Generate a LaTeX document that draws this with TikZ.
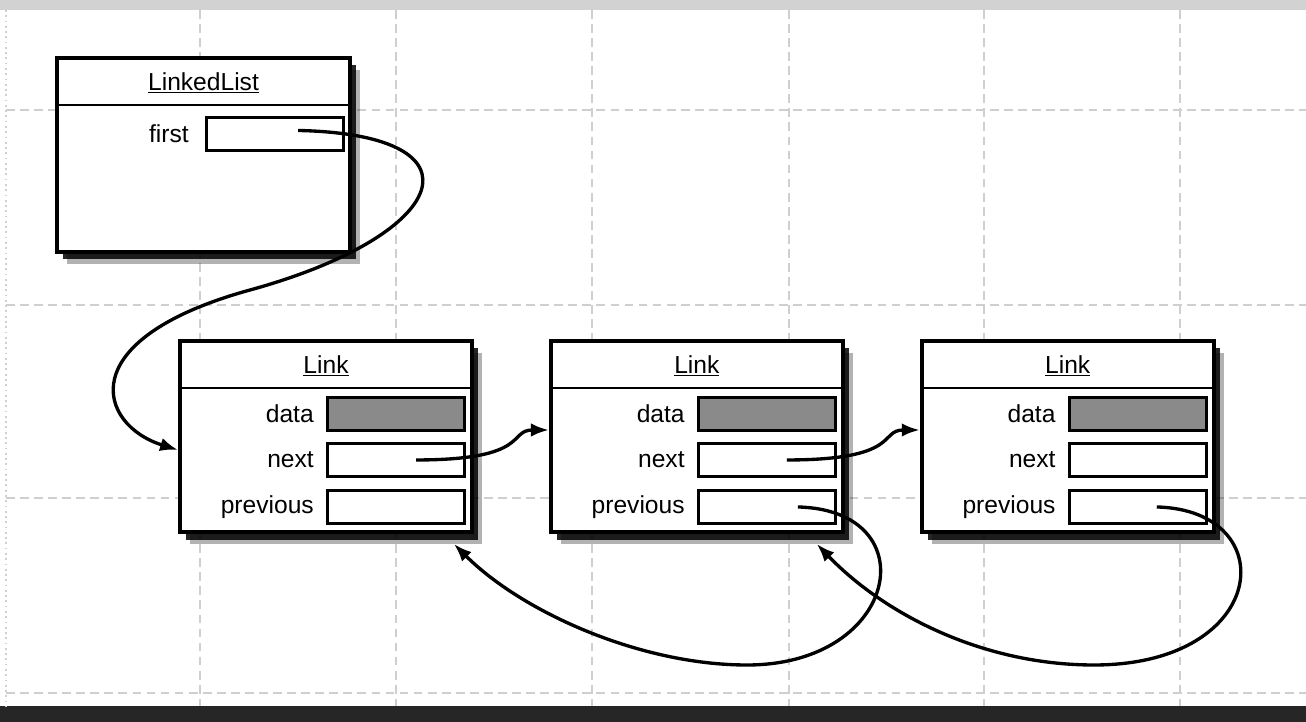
\documentclass[tikz,border=0pt]{standalone}
\usepackage{fontspec}
\setmainfont{Liberation Sans}
\usetikzlibrary{arrows.meta,positioning,shadows}
\definecolor{datagray}{HTML}{8A8A8A}
\definecolor{gridgray}{HTML}{CFCFCF}
\begin{document}
\begin{tikzpicture}[node distance=1.5cm,
  every node/.style={font=\fontsize{14}{16}\selectfont},
  objbox/.style={draw,line width=2.2pt,fill=white,inner sep=0pt,minimum width=5.84cm,minimum height=3.82cm,
    drop shadow={shadow xshift=.2cm,shadow yshift=-.24cm,opacity=.3,fill=black},
    drop shadow={shadow xshift=.12cm,shadow yshift=-.15cm,opacity=.85,fill=black}},
  field/.style={draw,line width=1.6pt,fill=white,inner sep=0pt,minimum width=2.74cm,minimum height=.66cm},
  lbl/.style={inner sep=0pt},
  ptr/.style={-{Latex[length=.36cm,width=.27cm]},line width=1.9pt},
  gridline/.style={gridgray,line width=.7pt,dash pattern=on 5pt off 3pt}]
\useasboundingbox (0,0) rectangle (26.12,-14.44);
% scanned paper
\fill[gray!35] (0,0) rectangle (26.12,-.2);
\fill[black!85] (0,-14.12) rectangle (26.12,-14.44);
\draw[gridgray,line width=1pt,dash pattern=on 1pt off 2pt] (.12,-.2) -- (.12,-14.12);
\foreach \x in {4.0,7.92,11.84,15.78,19.68,23.6} \draw[gridline] (\x,-.2) -- (\x,-14.12);
\foreach \y in {-2.2,-6.1,-9.96,-13.86} \draw[gridline] (.12,\y) -- (26.12,\y);

% list object
\node[objbox,minimum width=5.86cm,minimum height=3.88cm] (ll) at (4.07,-3.10) {};
\draw[line width=1.6pt] ([yshift=-.98cm]ll.north west) -- ([yshift=-.98cm]ll.north east);
\node (llt) at ([yshift=-.54cm]ll.north) {\underline{LinkedList}};
\node[field,below left=1.2cm and .14cm of ll.north east] (f0) {};
\node[lbl,left=.32cm of f0] (f0l) {first};

% links
\node[objbox] (l1) at (6.52,-8.73) {};
\node[objbox,right=of l1] (l2) {};
\node[objbox,right=of l2] (l3) {};
\foreach \n in {1,2,3}{
  \draw[line width=1.6pt] ([yshift=-.98cm]l\n.north west) -- ([yshift=-.98cm]l\n.north east);
  \node (t\n) at ([yshift=-.54cm]l\n.north) {\underline{Link}};
  \node[field,fill=datagray,below left=1.14cm and .16cm of l\n.north east] (d\n) {};
  \node[field,below left=2.06cm and .16cm of l\n.north east] (n\n) {};
  \node[field,below left=3.0cm and .16cm of l\n.north east] (p\n) {};
  \node[lbl,left=.24cm of d\n] (dl\n) {data};
  \node[lbl,left=.24cm of n\n] (nl\n) {next};
  \node[lbl,left=.24cm of p\n] (pl\n) {previous};
}

% pointers
\coordinate (w0) at (5.00,-5.80);
\coordinate (w2) at (14.94,-13.30);
\coordinate (w3) at (21.88,-13.30);
\draw[ptr] ([xshift=.46cm,yshift=.07cm]f0.center) .. controls +(3.84,-.08) and +(4.0,1.1) .. (w0)
  .. controls +(-3.6,-.99) and +(-1.6,.5) .. ([yshift=-.27cm]l1.west);
\draw[ptr] ([xshift=.4cm]n1.center) .. controls +(2.3,0) and +(-.82,0) .. ([yshift=.13cm]l2.west);
\draw[ptr] ([xshift=.4cm]n2.center) .. controls +(2.3,0) and +(-.82,0) .. ([yshift=.13cm]l3.west);
\draw[ptr] ([xshift=.62cm]p2.center) .. controls +(2.6,-.06) and +(3.06,0) .. (w2)
  .. controls +(-2.14,0) and +(1.36,-1.36) .. ([xshift=-.4cm,yshift=-.2cm]l1.south east);
\draw[ptr] ([xshift=.38cm]p3.center) .. controls +(2.54,-.06) and +(3.52,0) .. (w3)
  .. controls +(-2.28,0) and +(1.3,-1.36) .. ([xshift=-.56cm,yshift=-.2cm]l2.south east);
\end{tikzpicture}
\end{document}
